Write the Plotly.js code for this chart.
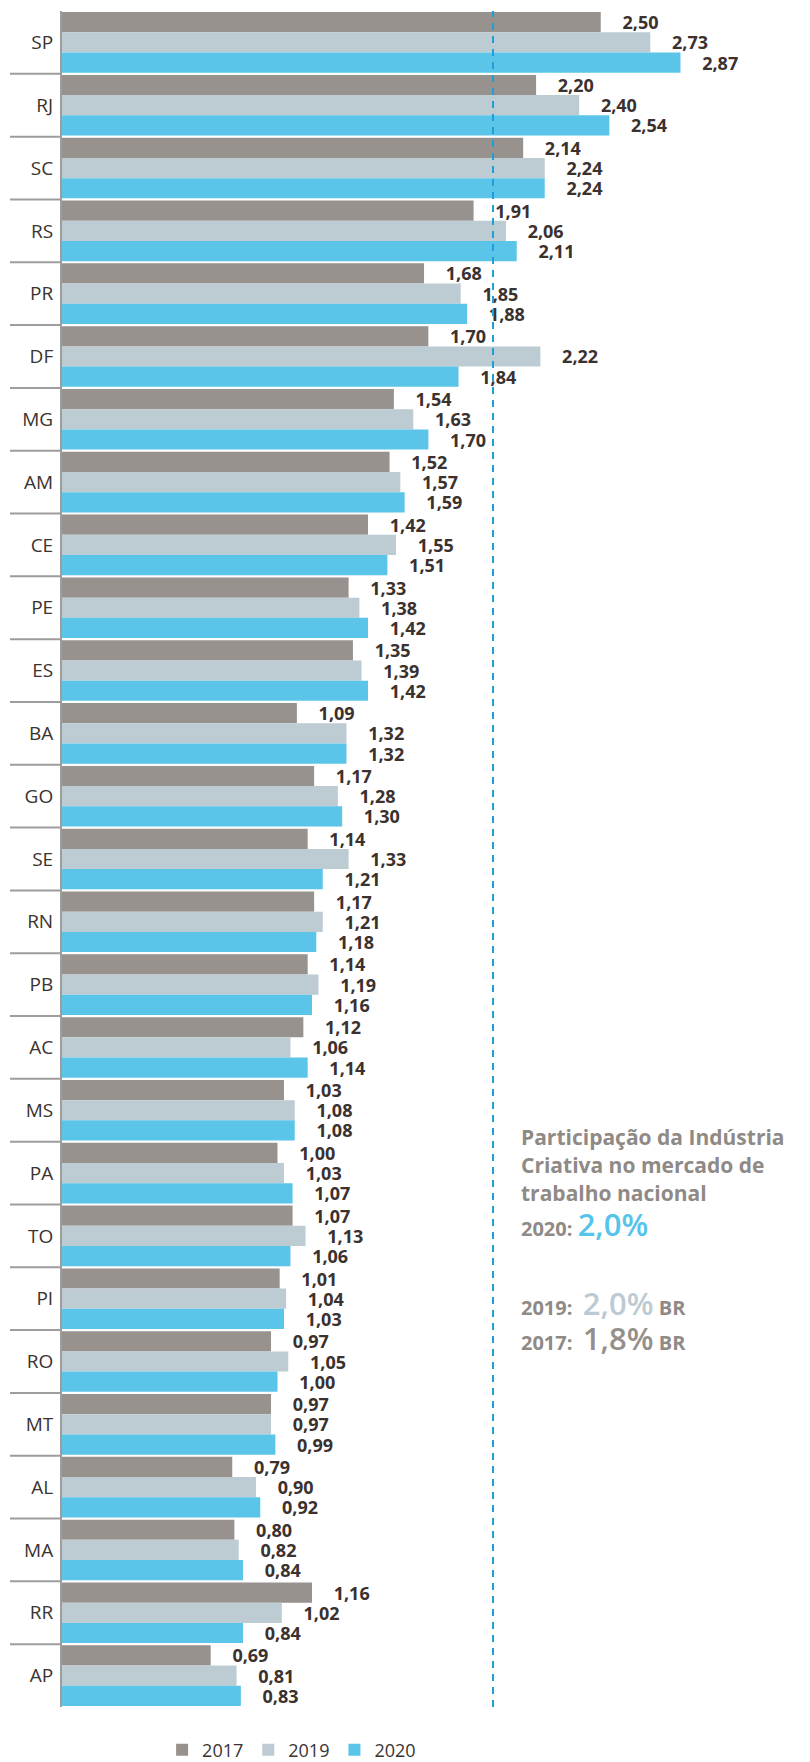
<!DOCTYPE html>
<html>
<head>
<meta charset="utf-8">
<script src="https://cdn.plot.ly/plotly-3.0.1.min.js"></script>
<style>html,body{margin:0;padding:0;background:#fff;} #chart{width:810px;height:1762px;}</style>
</head>
<body>
<div id="chart"></div>
<script>
const states = ["SP","RJ","SC","RS","PR","DF","MG","AM","CE","PE","ES","BA","GO","SE","RN","PB","AC","MS","PA","TO","PI","RO","MT","AL","MA","RR","AP"];
const v2017 = [2.50,2.20,2.14,1.91,1.68,1.70,1.54,1.52,1.42,1.33,1.35,1.09,1.17,1.14,1.17,1.14,1.12,1.03,1.00,1.07,1.01,0.97,0.97,0.79,0.80,1.16,0.69];
const v2019 = [2.73,2.40,2.24,2.06,1.85,2.22,1.63,1.57,1.55,1.38,1.39,1.32,1.28,1.33,1.21,1.19,1.06,1.08,1.03,1.13,1.04,1.05,0.97,0.90,0.82,1.02,0.81];
const v2020 = [2.87,2.54,2.24,2.11,1.88,1.84,1.70,1.59,1.51,1.42,1.42,1.32,1.30,1.21,1.18,1.16,1.14,1.08,1.07,1.06,1.03,1.00,0.99,0.92,0.84,0.84,0.83];
const seriesNames = ["2017","2019","2020"];
const brAverage = 2.0;
const noteLines = ["Participação da Indústria","Criativa no mercado de","trabalho nacional"];
const noteYears = ["2020:","2019:","2017:"];
const noteValues = ["2,0%","2,0%","1,8%"];

const colors = ["#98928f","#bdcbd3","#5bc4e9"];
const labelFont = {family:"Open Sans", size:18, color:"#3b312e", weight:700};
const pad = "\u00a0\u00a0\u00a0\u00a0";

const allVals = [v2017, v2019, v2020];
const traces = allVals.map((vals,i)=>({
  type:"bar", orientation:"h", name:seriesNames[i],
  x:vals, y:states,
  marker:{color:colors[i], line:{width:0}},
  texttemplate: pad + "%{x:.2f}",
  textposition:"outside",
  textfont:labelFont, outsidetextfont:labelFont,
  cliponaxis:false, constraintext:"none",
  hoverinfo:"skip"
}));

const W = 810, H = 1762;
const mL = 62, mR = 0, mT = 11, mB = 55;
const plotW = W - mL - mR, plotH = H - mT - mB;
const pxPerUnit = 215.5;
const xMax = plotW / pxPerUnit;

const shapes = [];
shapes.push({type:"line", xref:"x", yref:"paper", x0:brAverage, x1:brAverage, y0:0, y1:1,
  line:{color:"#1f9fd8", width:2, dash:"7px,6px"}});
for (let i=0;i<states.length-1;i++){
  shapes.push({type:"line", xref:"paper", yref:"y", x0:-52/plotW, x1:0, y0:i+0.5, y1:i+0.5,
    line:{color:"#9d9d9d", width:2}});
}

const gray = "#8f8a86";
const noteFont = {family:"Open Sans", size:21, color:gray, weight:700};
const ypx = p => (H - mB - p)/plotH;
const xpx = p => (p - mL)/plotW;
const annotations = [];
const lineY = [1137,1165,1193];
noteLines.forEach((t,i)=>annotations.push({xref:"paper", yref:"paper", x:xpx(519), y:ypx(lineY[i]),
  xanchor:"left", yanchor:"middle", text:t, showarrow:false, font:noteFont}));
const valColors = ["#55c3ea","#bccbd3","#958f8b"];
const rowY = [1224,1303,1338];
noteYears.forEach((yr,i)=>{
  let txt = yr + "\u00a0<span style='font-size:31px;font-weight:600;color:"+valColors[i]+"'>" + noteValues[i] + "</span>";
  if (i>0) txt = yr + "\u00a0\u00a0<span style='font-size:31px;font-weight:600;color:"+valColors[i]+"'>" + noteValues[i] + "</span>\u00a0<span style='font-size:20px'>BR</span>";
  annotations.push({xref:"paper", yref:"paper", x:xpx(519), y:ypx(rowY[i]),
    xanchor:"left", yanchor:"middle", text:txt, showarrow:false, font:{family:"Open Sans", size:20, color:gray, weight:700}});
});

const layout = {
  width:W, height:H,
  margin:{l:mL, r:mR, t:mT, b:mB, pad:0},
  paper_bgcolor:"#ffffff", plot_bgcolor:"#ffffff",
  separators:",.",
  barmode:"group", bargap:0.035, bargroupgap:0,
  showlegend:true,
  legend:{orientation:"h", xref:"container", yref:"container", x:0.36, y:12/H, xanchor:"center", yanchor:"middle",
    font:{family:"Open Sans", size:18, color:"#3a3330"}, itemwidth:30, traceorder:"normal"},
  xaxis:{range:[0,xMax], visible:false, fixedrange:true},
  yaxis:{type:"category", autorange:"reversed", showline:true, linecolor:"#9d9d9d", linewidth:2,
    ticks:"", showgrid:false, zeroline:false, ticklabelstandoff:3,
    tickfont:{family:"Open Sans", size:19, color:"#3a3330"}, fixedrange:true},
  shapes:shapes,
  annotations:annotations
};

Plotly.newPlot("chart", traces, layout, {displayModeBar:false, staticPlot:true});
</script>
</body>
</html>
